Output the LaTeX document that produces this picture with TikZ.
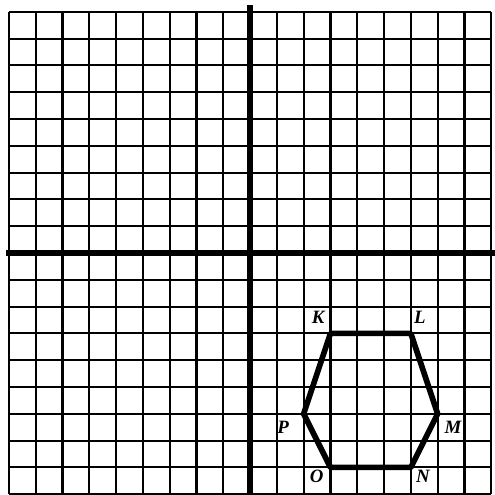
\documentclass[tikz,border=0pt]{standalone}
\usepackage{fontspec}
\setmainfont{Liberation Serif}
\begin{document}
\begin{tikzpicture}[x=1cm,y=1cm,
  gridline/.style={line width=2.3pt,black},
  axisline/.style={line width=6.5pt,black},
  polyline/.style={line width=6pt,black,line join=round,line cap=round},
  vlabel/.style={font=\fontsize{20}{20}\selectfont\bfseries\itshape,inner sep=0pt}]
\useasboundingbox (-9.33,-9.03) rectangle (9.14,9.44);
\fill[white] (-9.33,-9.03) rectangle (9.14,9.44);
\draw[gridline] (-9,-9) grid (9,9);
\draw[axisline] (-9.10,0) -- (9.14,0);
\draw[axisline] (0,9.25) -- (0,-9.03);
\coordinate (K) at (3,-3);
\coordinate (L) at (6,-3);
\coordinate (M) at (7,-6);
\coordinate (N) at (6,-8);
\coordinate (O) at (3,-8);
\coordinate (P) at (2,-6);
\draw[polyline] (K) -- (L) -- (M) -- (N) -- (O) -- (P) -- cycle;
\node[vlabel] (lK) at (2.54,-2.39) {K};
\node[vlabel] (lL) at (6.34,-2.39) {L};
\node[vlabel] (lM) at (7.57,-6.49) {M};
\node[vlabel] (lN) at (6.45,-8.32) {N};
\node[vlabel] (lO) at (2.49,-8.32) {O};
\node[vlabel] (lP) at (1.23,-6.49) {P};
\end{tikzpicture}
\end{document}
